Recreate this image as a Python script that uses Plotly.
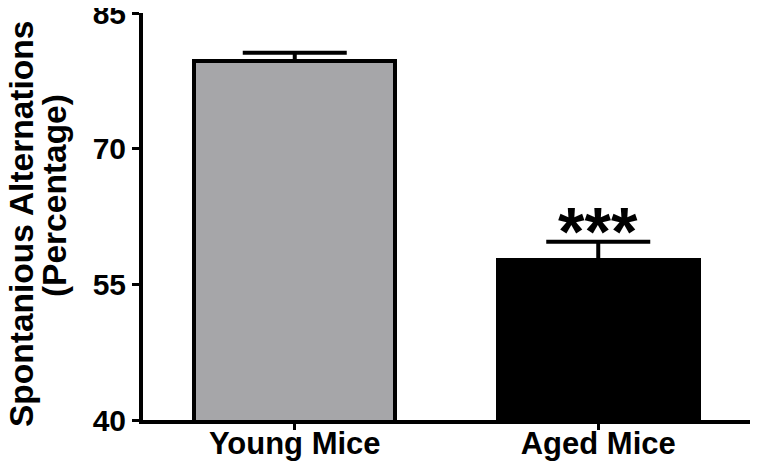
import plotly.graph_objects as go

categories = ["Young Mice", "Aged Mice"]
means = [79.7, 57.7]
sem = [0.9, 2.0]
bar_colors = ["#a6a6a9", "#000000"]
y_ticks = [40, 55, 70, 85]
y_title_1 = "Spontanious Alternations"
y_title_2 = "(Percentage)"
significance = "***"

FONT = "Liberation Sans, Arial, sans-serif"

# The page body has an 8px margin, so the figure is sized to fit the window.
OFF = 8
W, H = 758 - OFF, 469 - OFF
L, R, T, B = 143 - OFF, 8, 12.5 - OFF, 48.5
pw, ph = W - L - R, H - T - B


def paper_x(page_px):
    return (page_px - OFF - L) / pw


def paper_y(page_py):
    return 1 - (page_py - OFF - T) / ph


fig = go.Figure()
fig.add_trace(go.Bar(
    x=[0, 1],
    y=means,
    width=0.662,
    marker=dict(color=bar_colors, line=dict(color="black", width=4)),
    error_y=dict(type="data", array=sem, arrayminus=[0, 0], symmetric=False,
                 color="black", thickness=4, width=52),
    showlegend=False,
))

fig.add_annotation(x=1, y=means[1] + sem[1], yref="y", xref="x",
                   text=significance, showarrow=False, yanchor="bottom", yshift=-29,
                   font=dict(family=FONT, size=68, color="black", weight="bold"))

fig.add_annotation(x=paper_x(22), y=paper_y(224), xref="paper", yref="paper",
                   text=y_title_1, showarrow=False, textangle=-90,
                   xanchor="center", yanchor="middle",
                   font=dict(family=FONT, size=33.5, color="black", weight="bold"))
fig.add_annotation(x=paper_x(54), y=paper_y(196), xref="paper", yref="paper",
                   text=y_title_2, showarrow=False, textangle=-90,
                   xanchor="center", yanchor="middle",
                   font=dict(family=FONT, size=33.5, color="black", weight="bold"))

fig.update_layout(
    width=W, height=H,
    margin=dict(l=L, r=R, t=T, b=B, pad=0, autoexpand=False),
    plot_bgcolor="white", paper_bgcolor="white",
    bargap=0,
    font=dict(family=FONT, size=31, color="black", weight="bold"),
)
fig.update_xaxes(
    range=[-0.5, 1.5], tickmode="array", tickvals=[0, 1], ticktext=categories,
    showline=True, linecolor="black", linewidth=4,
    ticks="outside", ticklen=6, tickwidth=3, tickcolor="black",
    showgrid=False, zeroline=False, automargin=False,
    ticklabelstandoff=-13,
    tickfont=dict(family=FONT, size=31, color="black", weight="bold"),
)
fig.update_yaxes(
    range=[40, 85], tickmode="array", tickvals=y_ticks,
    showline=True, linecolor="black", linewidth=4,
    ticks="outside", ticklen=7, tickwidth=3, tickcolor="black",
    showgrid=False, zeroline=False, automargin=False,
    ticklabeloverflow="allow",
    tickfont=dict(family=FONT, size=30, color="black", weight="bold"),
)

fig.write_html("out.html")
